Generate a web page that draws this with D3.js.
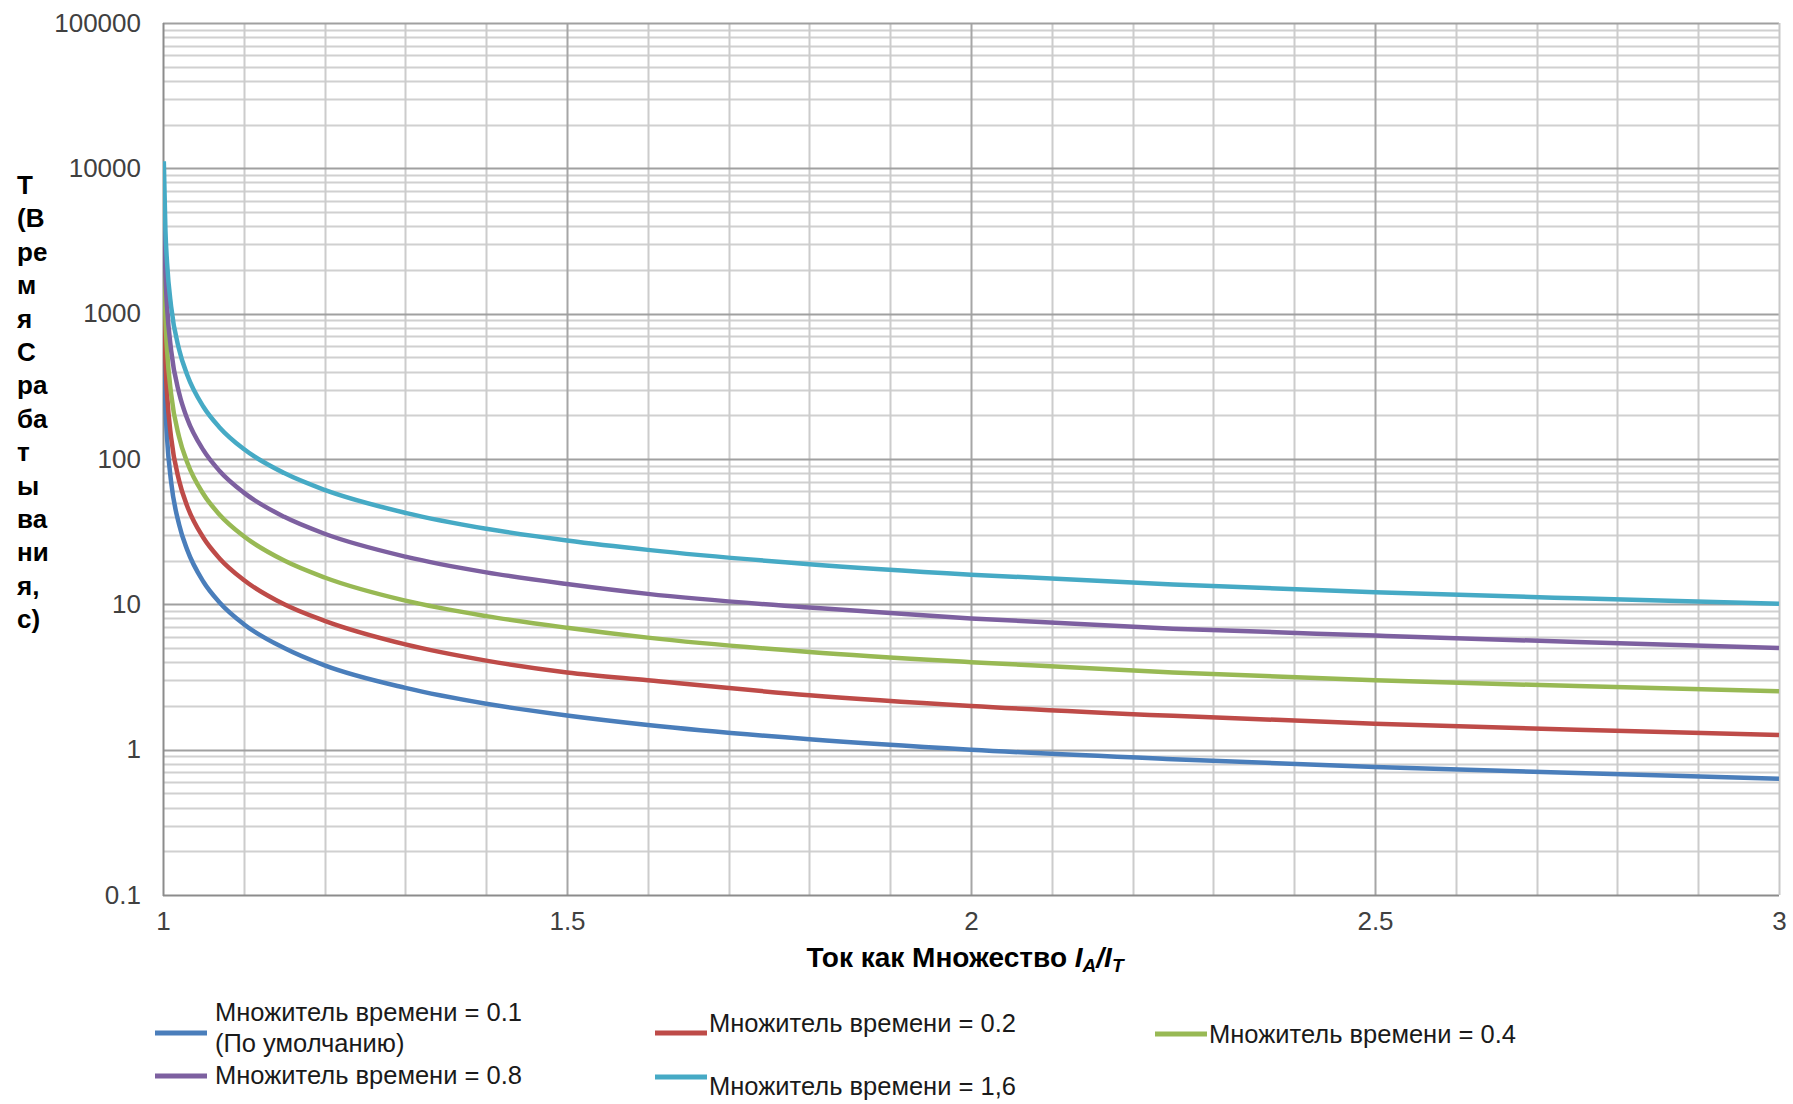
<!DOCTYPE html>
<html>
<head>
<meta charset="utf-8">
<script src="https://cdn.jsdelivr.net/npm/d3@7"></script>
<style>
  body { margin: 0; background: #fff; }
  svg { display: block; }
</style>
</head>
<body>
<div id="chart"></div>
<script>
// ***************** data *****************
const xValues = [1.001, 1.003, 1.005, 1.01, 1.02, 1.03, 1.05, 1.07, 1.1, 1.15, 1.2, 1.3, 1.4, 1.5, 1.6, 1.8, 2.0, 2.25, 2.5, 2.75, 3.0];
const tms01 = [700, 234, 140, 70, 35.3, 23.7, 14.3, 10.3, 7.3, 5.0, 3.8, 2.66, 2.07, 1.72, 1.48, 1.18, 1.0, 0.86, 0.76, 0.69, 0.63];
const tms02 = [1400, 467, 281, 141, 70.7, 47.3, 28.7, 20.7, 14.7, 10.0, 7.7, 5.3, 4.1, 3.4, 3.0, 2.37, 2.0, 1.71, 1.51, 1.37, 1.26];
const tms04 = [2800, 935, 561, 281, 141, 94.7, 57.4, 41.4, 29.4, 20.0, 15.3, 10.6, 8.3, 6.9, 5.9, 4.7, 4.0, 3.4, 3.0, 2.74, 2.52];
const tms08 = [5600, 1870, 1123, 563, 283, 189, 115, 82.7, 58.7, 40.0, 30.6, 21.3, 16.6, 13.8, 11.8, 9.5, 8.0, 6.8, 6.1, 5.5, 5.0];
const tms16 = [11200, 3740, 2246, 1125, 565, 379, 229, 165, 117, 80.0, 61.3, 42.6, 33.1, 27.5, 23.7, 18.9, 16.0, 13.7, 12.1, 11.0, 10.1];

const seriesNames = [
  ['Множитель времени = 0.1', '(По умолчанию)'],
  ['Множитель времени = 0.2'],
  ['Множитель времени = 0.4'],
  ['Множитель времени = 0.8'],
  ['Множитель времени = 1,6'],
];
const seriesValues = [tms01, tms02, tms04, tms08, tms16];
const seriesColors = ['#4a7ebb', '#be4b48', '#98b954', '#7d60a0', '#46aac5'];

const yTicks = [0.1, 1, 10, 100, 1000, 10000, 100000];
const xTicks = [1, 1.5, 2, 2.5, 3];
const yTitle = ['Т', '(В', 'ре', 'м', 'я', 'С', 'ра', 'ба', 'т', 'ы', 'ва', 'ни', 'я,', 'с)'];

// ***************** layout *****************
const width = 1793;
const height = 1104;
const plot = { left: 163, right: 1779, top: 23, bottom: 895 };
const font = 'Arial, "Liberation Sans", sans-serif';
const textColor = '#404040';

const svg = d3.select('#chart').append('svg')
  .attr('width', width)
  .attr('height', height);

const x = d3.scaleLinear().domain([1, 3]).range([plot.left, plot.right]);
const y = d3.scaleLog().domain([0.1, 100000]).range([plot.bottom, plot.top]);

// ***************** grid *****************
const grid = svg.append('g').attr('class', 'grid');

const minorY = [];
yTicks.slice(0, -1).forEach(d => {
  for (let k = 2; k <= 9; k++) minorY.push(d * k);
});
grid.selectAll('.minorY').data(minorY).join('line')
  .attr('x1', plot.left).attr('x2', plot.right)
  .attr('y1', d => Math.round(y(d)) + 0.5).attr('y2', d => Math.round(y(d)) + 0.5)
  .attr('stroke', '#d0d0d0').attr('stroke-width', 2);

const minorX = d3.range(1, 30).map(i => 1 + i * 0.1).filter(d => d < 2.999);
grid.selectAll('.vx').data(minorX).join('line')
  .attr('x1', d => Math.round(x(d)) + 0.5).attr('x2', d => Math.round(x(d)) + 0.5)
  .attr('y1', plot.top).attr('y2', plot.bottom)
  .attr('stroke', d => (Math.abs(d * 2 - Math.round(d * 2)) < 1e-6 ? '#a6a6a6' : '#cccccc'))
  .attr('stroke-width', 2);

grid.selectAll('.majorY').data(yTicks).join('line')
  .attr('x1', plot.left).attr('x2', plot.right)
  .attr('y1', d => Math.round(y(d)) + 0.5).attr('y2', d => Math.round(y(d)) + 0.5)
  .attr('stroke', d => (d === 0.1 ? '#8c8c8c' : '#a0a0a0')).attr('stroke-width', 2);

// borders
grid.append('line')
  .attr('x1', plot.right + 0.5).attr('x2', plot.right + 0.5)
  .attr('y1', plot.top).attr('y2', plot.bottom)
  .attr('stroke', '#c8c8c8').attr('stroke-width', 2);
grid.append('line')
  .attr('x1', plot.left + 0.5).attr('x2', plot.left + 0.5)
  .attr('y1', plot.top).attr('y2', plot.bottom + 1)
  .attr('stroke', '#8c8c8c').attr('stroke-width', 2);

// ***************** axes labels *****************
const yAxis = svg.append('g')
  .attr('transform', `translate(${plot.left - 22},0)`)
  .call(d3.axisLeft(y).tickValues(yTicks).tickFormat(d => String(d)).tickSize(0).tickPadding(0));
yAxis.select('.domain').remove();
yAxis.selectAll('text')
  .attr('font-family', font).attr('font-size', 26).attr('fill', textColor);

const xAxis = svg.append('g')
  .attr('transform', `translate(0,${plot.bottom + 17})`)
  .call(d3.axisBottom(x).tickValues(xTicks).tickFormat(d => String(d)).tickSize(0).tickPadding(0));
xAxis.select('.domain').remove();
xAxis.selectAll('text')
  .attr('font-family', font).attr('font-size', 26).attr('fill', textColor);

// x title
const xt = svg.append('text')
  .attr('x', 965).attr('y', 967)
  .attr('text-anchor', 'middle')
  .attr('font-family', font).attr('font-size', 28).attr('font-weight', 'bold')
  .attr('fill', '#000');
xt.append('tspan').text('Ток как Множество ');
xt.append('tspan').attr('font-style', 'italic').text('I');
xt.append('tspan').attr('font-style', 'italic').attr('font-size', 19).attr('dy', 5).text('A');
xt.append('tspan').attr('font-style', 'italic').attr('dy', -5).text('/I');
xt.append('tspan').attr('font-style', 'italic').attr('font-size', 19).attr('dy', 5).text('T');

// y title (stacked)
svg.append('g').selectAll('text').data(yTitle).join('text')
  .attr('x', 17)
  .attr('y', (d, i) => 194 + i * 33.4)
  .attr('font-family', font).attr('font-size', 26).attr('font-weight', 'bold')
  .attr('fill', '#000')
  .text(d => d);

// ***************** curves *****************
const line = d3.line()
  .x(d => x(d[0]))
  .y(d => y(d[1]))
  .curve(d3.curveMonotoneX);

svg.append('clipPath').attr('id', 'plotClip')
  .append('rect')
  .attr('x', plot.left).attr('y', plot.top - 5)
  .attr('width', plot.right - plot.left + 3).attr('height', plot.bottom - plot.top + 5);

svg.append('g').attr('clip-path', 'url(#plotClip)')
  .selectAll('path').data(seriesValues).join('path')
  .attr('d', vals => line(xValues.map((xv, i) => [xv, vals[i]])))
  .attr('fill', 'none')
  .attr('stroke', (d, i) => seriesColors[i])
  .attr('stroke-width', 4.5)
  .attr('stroke-linejoin', 'round');

// ***************** legend *****************
const legendPos = [
  { lx: 155, ly: 1033, ty: 1012, gap: 8 },
  { lx: 655, ly: 1033, ty: 1023, gap: 2 },
  { lx: 1155, ly: 1034, ty: 1034, gap: 2 },
  { lx: 155, ly: 1076, ty: 1075, gap: 8 },
  { lx: 655, ly: 1077, ty: 1086, gap: 2 },
];
const legend = svg.append('g').attr('class', 'legend');
seriesNames.forEach((names, i) => {
  const p = legendPos[i];
  legend.append('line')
    .attr('x1', p.lx).attr('x2', p.lx + 52)
    .attr('y1', p.ly).attr('y2', p.ly)
    .attr('stroke', seriesColors[i]).attr('stroke-width', 5);
  const t = legend.append('text')
    .attr('x', p.lx + 52 + p.gap)
    .attr('y', p.ty)
    .attr('dominant-baseline', 'central')
    .attr('font-family', font).attr('font-size', 25.5)
    .attr('fill', '#1a1a1a');
  names.forEach((n, j) => {
    t.append('tspan').attr('x', p.lx + 52 + p.gap).attr('dy', j === 0 ? 0 : 31).text(n);
  });
});
</script>
</body>
</html>
